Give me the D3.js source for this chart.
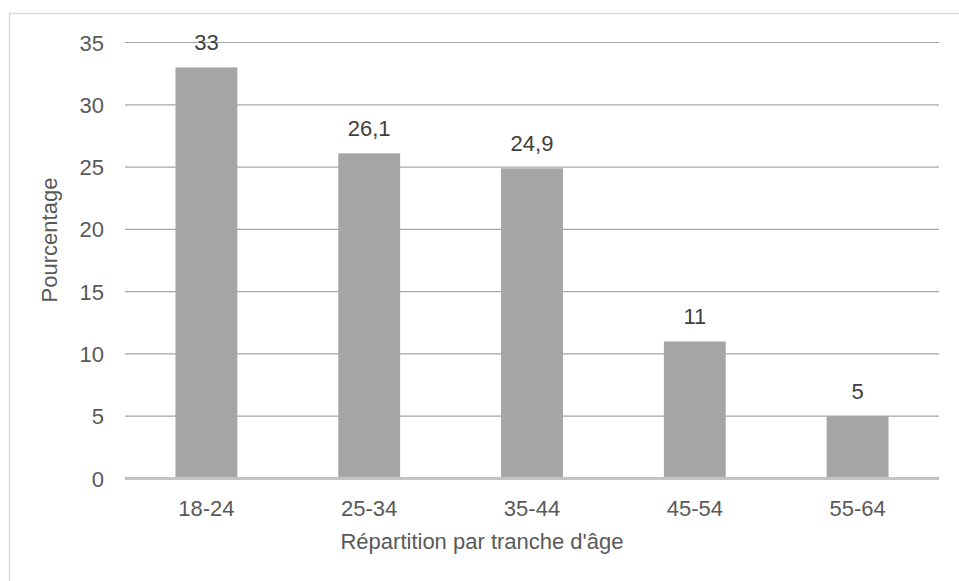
<!DOCTYPE html>
<html>
<head>
<meta charset="utf-8">
<script src="https://cdn.jsdelivr.net/npm/d3@7"></script>
<style>
  body { margin: 0; background: #fff; }
  svg { display: block; font-family: "Liberation Sans", Arial, sans-serif; }
</style>
</head>
<body>
<div id="chart"></div>
<script>
// data
var categories = ["18-24", "25-34", "35-44", "45-54", "55-64"];
var values = [33, 26.1, 24.9, 11, 5];
var labels = ["33", "26,1", "24,9", "11", "5"];
var yTicks = [0, 5, 10, 15, 20, 25, 30, 35];

var W = 959, H = 581;
var plot = { left: 125, right: 939, top: 42.5, bottom: 478.5 };

var svg = d3.select("#chart").append("svg")
    .attr("width", W)
    .attr("height", H);

// outer chart frame (runs past right / bottom edge)
svg.append("rect")
    .attr("x", 9.5).attr("y", 13.5)
    .attr("width", W + 10).attr("height", H + 10)
    .attr("fill", "none")
    .attr("stroke", "#d9d9d9")
    .attr("stroke-width", 1.5);

var x = d3.scaleBand()
    .domain(categories)
    .range([plot.left, plot.right])
    .paddingInner(0.62)
    .paddingOuter(0.31);

var y = d3.scaleLinear()
    .domain([0, 35])
    .range([plot.bottom, plot.top]);

// gridlines
svg.append("g").selectAll("line.grid")
    .data(yTicks.filter(function(d) { return d > 0; }))
    .enter().append("line")
    .attr("class", "grid")
    .attr("x1", plot.left).attr("x2", plot.right)
    .attr("y1", function(d) { return y(d); })
    .attr("y2", function(d) { return y(d); })
    .attr("stroke", "#a6a6a6")
    .attr("stroke-width", 1.2);

// y tick labels
svg.append("g").selectAll("text.ytick")
    .data(yTicks)
    .enter().append("text")
    .attr("class", "ytick")
    .attr("x", 104)
    .attr("y", function(d) { return y(d) + 8; })
    .attr("text-anchor", "end")
    .attr("fill", "#595959")
    .attr("font-size", 22)
    .text(function(d) { return d; });

// bars
svg.append("g").selectAll("rect.bar")
    .data(values)
    .enter().append("rect")
    .attr("class", "bar")
    .attr("x", function(d, i) { return x(categories[i]); })
    .attr("width", x.bandwidth())
    .attr("y", function(d) { return y(d); })
    .attr("height", function(d) { return y(0) - y(d); })
    .attr("fill", "#a5a5a5");

// value labels
svg.append("g").selectAll("text.val")
    .data(values)
    .enter().append("text")
    .attr("class", "val")
    .attr("x", function(d, i) { return x(categories[i]) + x.bandwidth() / 2; })
    .attr("y", function(d) { return y(d) - 17; })
    .attr("text-anchor", "middle")
    .attr("fill", "#404040")
    .attr("font-size", 22)
    .text(function(d, i) { return labels[i]; });

// x baseline
svg.append("line")
    .attr("x1", plot.left).attr("x2", plot.right)
    .attr("y1", y(0)).attr("y2", y(0))
    .attr("stroke", "#c4c4c4")
    .attr("stroke-width", 3);

// x category labels
svg.append("g").selectAll("text.xtick")
    .data(categories)
    .enter().append("text")
    .attr("class", "xtick")
    .attr("x", function(d) { return x(d) + x.bandwidth() / 2; })
    .attr("y", 515.5)
    .attr("text-anchor", "middle")
    .attr("fill", "#595959")
    .attr("font-size", 22)
    .text(function(d) { return d; });

// axis titles
svg.append("text")
    .attr("x", 482)
    .attr("y", 549)
    .attr("text-anchor", "middle")
    .attr("fill", "#595959")
    .attr("font-size", 22)
    .text("Répartition par tranche d'âge");

svg.append("text")
    .attr("transform", "translate(57,240) rotate(-90)")
    .attr("text-anchor", "middle")
    .attr("fill", "#595959")
    .attr("font-size", 22)
    .text("Pourcentage");
</script>
</body>
</html>
